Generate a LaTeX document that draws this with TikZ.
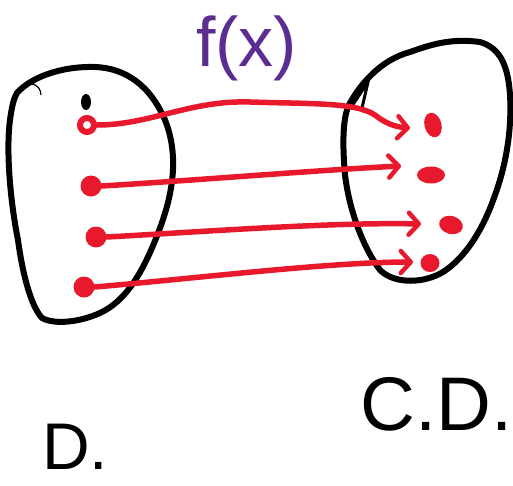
\documentclass[tikz,border=0pt]{standalone}
\usepackage{fontspec}
\setmainfont{Liberation Sans}
\usetikzlibrary{arrows.meta,shapes.geometric}
\definecolor{inkred}{HTML}{E8192C}
\definecolor{inkpurple}{HTML}{5B2C91}
\tikzset{
  blob/.style={draw=black, line width=6pt, line cap=round, line join=round},
  reddot/.style={circle, fill=inkred, inner sep=0pt, minimum size=#1},
  reddot/.default=21pt,
  redblob/.style={ellipse, fill=inkred, inner sep=0pt},
  mapline/.style={draw=inkred, line width=5.5pt, line cap=round,
    -{Straight Barb[length=10pt,width=22pt,line width=4.5pt,round]}},
  label/.style={inner sep=0pt, anchor=base west, text depth=0pt}
}
\begin{document}
\begin{tikzpicture}[x=1pt,y=-1pt]
\useasboundingbox[fill=white] (0,0) rectangle (513,485);

% domain set
\draw[blob] (17,93) .. controls (30,78) and (60,66) .. (95,67)
  .. controls (125,68) and (150,85) .. (165,120)
  .. controls (177,150) and (176,185) .. (160,228)
  .. controls (145,268) and (128,300) .. (100,313)
  .. controls (80,322) and (55,325) .. (42,318)
  .. controls (30,305) and (22,270) .. (18,240)
  .. controls (10,200) and (6,150) .. (10,120)
  .. controls (12,105) and (14,98) .. (17,93) -- cycle;
\draw[black, line width=1.2pt] (30,84) .. controls (38,84) and (41,90) .. (41,95);
\node[ellipse, fill=black, minimum width=10pt, minimum height=16pt, inner sep=0pt] (blk) at (86,102) {};

% codomain set
\draw[blob] (350,103) .. controls (360,85) and (380,60) .. (410,52)
  .. controls (430,45) and (450,38) .. (480,42)
  .. controls (500,48) and (508,65) .. (510,95)
  .. controls (512,130) and (506,165) .. (495,195)
  .. controls (483,230) and (465,258) .. (443,272)
  .. controls (425,283) and (395,285) .. (380,270)
  .. controls (365,250) and (350,215) .. (345,175)
  .. controls (342,140) and (343,115) .. (350,103) -- cycle;
\draw[black, line width=3pt, line cap=round] (352,106) -- (368,82) -- (362,108);

% elements of the domain
\node[circle, draw=inkred, line width=6pt, fill=white, minimum size=14pt, inner sep=0pt] (a1) at (87,125) {};
\node[reddot] (a2) at (91,186) {};
\node[reddot] (a3) at (96,237) {};
\node[reddot] (a4) at (84,287) {};

% elements of the codomain
\node[redblob, minimum width=17pt, minimum height=25pt, rotate=15] (b1) at (433,125) {};
\node[redblob, minimum width=28pt, minimum height=17pt] (b2) at (431,175) {};
\node[redblob, minimum width=24pt, minimum height=18pt, rotate=-15] (b3) at (451,225) {};
\node[redblob, minimum width=19pt, minimum height=18pt] (b4) at (430,263) {};

% arrow tips
\coordinate (t1) at (410,128);
\coordinate (t2) at (401,166);
\coordinate (t3) at (421,224);
\coordinate (t4) at (413,262);

% the mapping
\draw[mapline] (a1.east) .. controls (150,125) and (190,100) .. (250,102)
  .. controls (310,104) and (355,102) .. (375,115)
  .. controls (385,123) and (395,127) .. (t1);
\draw[mapline] (a2.east) .. controls (200,180) and (320,170) .. (t2);
\draw[mapline] (a3.east) .. controls (200,232) and (330,222) .. (t3);
\draw[mapline] (a4.east) .. controls (200,278) and (330,262) .. (t4);

% labels
\node[label, text=inkpurple, font=\fontsize{70}{70}\selectfont] (fx) at (196,66) {f(x)};
\node[label, font=\fontsize{76}{76}\selectfont] (cd) at (360,430) {C.D.};
\node[label, font=\fontsize{66}{66}\selectfont] (d) at (42,469) {D.};
\end{tikzpicture}
\end{document}
